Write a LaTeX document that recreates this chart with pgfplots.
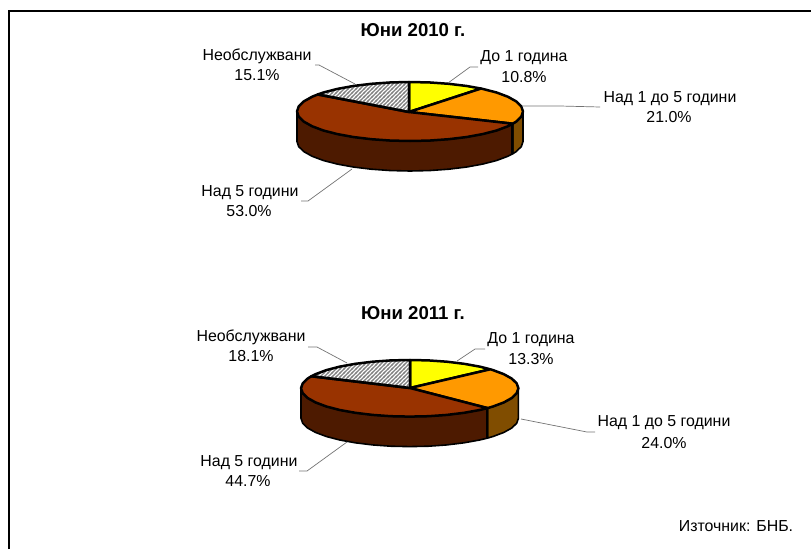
\documentclass[border=0pt]{standalone}
\usepackage{fontspec}
\setmainfont{Liberation Sans}
\usepackage{pgfplots}
\pgfplotsset{compat=1.18}
\usetikzlibrary{patterns}

\definecolor{cyellow}{HTML}{FFFF00}
\definecolor{corange}{HTML}{FF9900}
\definecolor{cbrown}{HTML}{993300}
\definecolor{sorange}{HTML}{804D00}
\definecolor{sbrown}{HTML}{4D1A00}

\pgfdeclarepatternformonly{hatch}{\pgfqpoint{-1pt}{-1pt}}{\pgfqpoint{5pt}{5pt}}{\pgfqpoint{4pt}{4pt}}{
  \pgfsetlinewidth{1.2pt}
  \pgfpathmoveto{\pgfqpoint{-1pt}{-1pt}}
  \pgfpathlineto{\pgfqpoint{5pt}{5pt}}
  \pgfusepath{stroke}
}

\tikzset{
  lab/.style={font=\fontsize{15.9}{17}\selectfont,inner sep=0pt,anchor=center},
  ttl/.style={font=\fontsize{18.6}{19}\selectfont\bfseries,inner sep=0pt,anchor=center},
}
\pgfplotsset{
  slice/.style={draw=black,line width=2.5pt,line join=round},
  edge/.style={draw=black,line width=1.6pt,line join=round},
  leader/.style={draw=black!55,line width=0.7pt,no marks},
}

\begin{document}
\begin{tikzpicture}
\begin{axis}[
    hide axis,
    scale only axis,
    width=811pt, height=549pt,
    xmin=0, xmax=811,
    ymin=0, ymax=549,
    y dir=reverse,
    no markers,
]
% hidden axis gives no box of its own
\path (axis cs:0,0) rectangle (axis cs:811,549);
% frame, open on the right and at the bottom
\addplot[black,line width=2.4pt] coordinates {(9,549) (9,11) (811,11)};

% --- June 2010: 10.8, 21.0, 53.0, 15.1 ---
% sides
\addplot[edge,fill=sorange] coordinates {
 (523,111.5) (521.3,116.6) (516.2,121.6) (512.8,123.7)
 (512.8,153.7) (516.2,151.6) (521.3,146.6) (523,141.5)} -- cycle;
\addplot[edge,fill=sbrown] coordinates {
 (512.8,123.7) (507.9,126.25) (496.6,130.5) (482.6,134.1) (466.5,137.05) (448.6,139.2) (429.6,140.55) (410,141)
 (390.4,140.55) (371.4,139.2) (353.5,137.05) (337.4,134.1) (323.4,130.5) (312.1,126.25) (303.8,121.6) (298.7,116.6) (297,111.5)
 (297,141.5) (298.7,146.6) (303.8,151.6) (312.1,156.25) (323.4,160.5) (337.4,164.1) (353.5,167.05) (371.4,169.2) (390.4,170.55)
 (410,171) (429.6,170.55) (448.6,169.2) (466.5,167.05) (482.6,164.1) (496.6,160.5) (507.9,156.25) (512.8,153.7)} -- cycle;
\addplot[black,line width=2.4pt] coordinates {(512,123.7) (512,153.7)};
% top
\addplot[slice,fill=cyellow] coordinates {
 (409,112) (409,82) (429.6,82.45) (448.6,83.8) (466.5,85.95) (481,88.55)} -- cycle;
\addplot[slice,fill=corange] coordinates {
 (409,112) (481,88.55) (482.6,88.9) (496.6,92.5) (507.9,96.75) (516.2,101.4) (521.3,106.4) (523,111.5)
 (521.3,116.6) (516.2,121.6) (512.8,123.7)} -- cycle;
\addplot[slice,fill=cbrown] coordinates {
 (409,112) (512.8,123.7) (507.9,126.25) (496.6,130.5) (482.6,134.1) (466.5,137.05) (448.6,139.2) (429.6,140.55) (410,141)
 (390.4,140.55) (371.4,139.2) (353.5,137.05) (337.4,134.1) (323.4,130.5) (312.1,126.25) (303.8,121.6) (298.7,116.6) (297,111.5)
 (298.7,106.4) (303.8,101.4) (312.1,96.75) (317.8,94.45)} -- cycle;
\addplot[slice,pattern=hatch,pattern color=black!50] coordinates {
 (409,112) (317.8,94.45) (323.4,92.5) (337.4,88.9) (353.5,85.95) (371.4,83.8) (390.4,82.45) (409,82)} -- cycle;
% leaders
\addplot[leader] coordinates {(315,65) (319,65) (355,84)};
\addplot[leader] coordinates {(448,83) (470,67) (478,67)};
\addplot[leader] coordinates {(522,106) (560,106) (600,107)};
\addplot[leader] coordinates {(352,169) (308,201) (301,201)};

% --- June 2011: 13.3, 24.0, 44.7, 18.1 ---
% sides
\addplot[edge,fill=sorange] coordinates {
 (518.4,388.3) (516.7,393.2) (511.8,398) (503.8,402.45) (493,406.5) (487.5,408.1)
 (487.5,438.1) (493,436.5) (503.8,432.45) (511.8,428) (516.7,423.2) (518.4,418.3)} -- cycle;
\addplot[edge,fill=sbrown] coordinates {
 (487.5,408.1) (479.6,410) (464.05,412.8) (446.9,414.9) (428.6,416.2) (409.7,416.6)
 (390.8,416.2) (372.5,414.9) (355.35,412.8) (339.8,410) (326.4,406.5) (315.6,402.45) (307.6,398) (302.7,393.2) (301,388.3)
 (301,418.3) (302.7,423.2) (307.6,428) (315.6,432.45) (326.4,436.5) (339.8,440) (355.35,442.8) (372.5,444.9) (390.8,446.2)
 (409.7,446.6) (428.6,446.2) (446.9,444.9) (464.05,442.8) (479.6,440) (487.5,438.1)} -- cycle;
\addplot[black,line width=2.8pt] coordinates {(487,408.1) (487,438.1)};
% top
\addplot[slice,fill=cyellow] coordinates {
 (410,388) (410,360) (428.6,360.4) (446.9,361.7) (464.05,363.8) (479.6,366.6) (490.3,369.3)} -- cycle;
\addplot[slice,fill=corange] coordinates {
 (410,388) (490.3,369.3) (493,370.1) (503.8,374.15) (511.8,378.6) (516.7,383.4) (518.4,388.3)
 (516.7,393.2) (511.8,398) (503.8,402.45) (493,406.5) (487.5,408.1)} -- cycle;
\addplot[slice,fill=cbrown] coordinates {
 (410,388) (487.5,408.1) (479.6,410) (464.05,412.8) (446.9,414.9) (428.6,416.2) (409.7,416.6)
 (390.8,416.2) (372.5,414.9) (355.35,412.8) (339.8,410) (326.4,406.5) (315.6,402.45) (307.6,398) (302.7,393.2) (301,388.3)
 (302.7,383.4) (307.6,378.6) (311.3,376.25)} -- cycle;
\addplot[slice,pattern=hatch,pattern color=black!50] coordinates {
 (410,388) (311.3,376.25) (315.6,374.15) (326.4,370.1) (339.8,366.6) (355.35,363.8) (372.5,361.7) (390.8,360.4) (410,360)} -- cycle;
% leaders
\addplot[leader] coordinates {(308,347) (317,347) (347,363)};
\addplot[leader] coordinates {(457,361) (475,349) (485,349)};
\addplot[leader] coordinates {(521,419) (587,432) (595,432)};
\addplot[leader] coordinates {(347,442) (307,471) (299,471)};

% labels
\node[ttl] at (axis cs:413,30.5) {Юни 2010 г.};
\node[lab] at (axis cs:257,56.5) {Необслужвани};
\node[lab] at (axis cs:257,75) {15.1\%};
\node[lab] at (axis cs:524,58) {До 1 година};
\node[lab] at (axis cs:524,77) {10.8\%};
\node[lab] at (axis cs:670,99) {Над 1 до 5 години};
\node[lab] at (axis cs:669,117) {21.0\%};
\node[lab] at (axis cs:250,192.5) {Над 5 години};
\node[lab] at (axis cs:249,211) {53.0\%};

\node[ttl] at (axis cs:413,313) {Юни 2011 г.};
\node[lab] at (axis cs:251,337.5) {Необслужвани};
\node[lab] at (axis cs:251,356) {18.1\%};
\node[lab] at (axis cs:531,340) {До 1 година};
\node[lab] at (axis cs:531,359.5) {13.3\%};
\node[lab] at (axis cs:664,423) {Над 1 до 5 години};
\node[lab] at (axis cs:664,443) {24.0\%};
\node[lab] at (axis cs:249,462.5) {Над 5 години};
\node[lab] at (axis cs:248,481) {44.7\%};

\node[lab] at (axis cs:736,526) {Източник: БНБ.};
\end{axis}
\end{tikzpicture}
\end{document}
